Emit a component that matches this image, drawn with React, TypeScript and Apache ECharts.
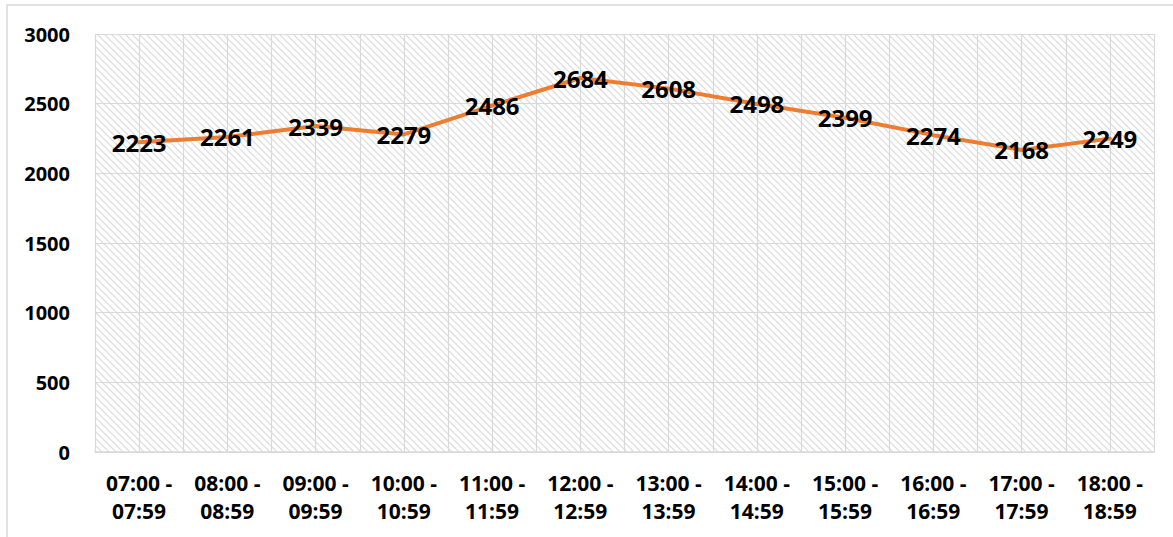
import React, { useEffect, useRef } from "react";
import * as echarts from "echarts";

const categories = [
  "07:00 -\n07:59",
  "08:00 -\n08:59",
  "09:00 -\n09:59",
  "10:00 -\n10:59",
  "11:00 -\n11:59",
  "12:00 -\n12:59",
  "13:00 -\n13:59",
  "14:00 -\n14:59",
  "15:00 -\n15:59",
  "16:00 -\n16:59",
  "17:00 -\n17:59",
  "18:00 -\n18:59",
];
const values = [2223, 2261, 2339, 2279, 2486, 2684, 2608, 2498, 2399, 2274, 2168, 2249];
const yMin = 0;
const yMax = 3000;
const yStep = 500;

const FONT = "'Open Sans', 'Noto Sans', sans-serif";

const hatchSvg =
  "<svg xmlns='http://www.w3.org/2000/svg' width='7' height='7'>" +
  "<path d='M-1,-1 L8,8 M-1,6 L1,8 M6,-1 L8,1' stroke='#dadada' stroke-width='1.2' fill='none'/></svg>";
const hatchUrl = "data:image/svg+xml;charset=utf-8," + encodeURIComponent(hatchSvg);

export default function App() {
  const ref = useRef<HTMLDivElement>(null);
  useEffect(() => {
    if (!ref.current) return;
    const chart = echarts.init(ref.current, null, { renderer: "svg" });
    chart.setOption({
      animation: false,
      backgroundColor: "#ffffff",
      textStyle: { fontFamily: FONT },
      graphic: [
        {
          type: "rect",
          shape: { x: 7, y: 5, width: 1200, height: 600 },
          style: { fill: "none", stroke: "#d9d9d9", lineWidth: 1.5 },
          silent: true,
          z: -1,
        },
      ],
      grid: {
        left: 95,
        top: 34,
        right: 19,
        bottom: 85,
        show: true,
        borderWidth: 0,
        backgroundColor: {
          image: hatchUrl,
          repeat: "repeat",
          imageWidth: 7,
          imageHeight: 7,
        } as any,
      },
      xAxis: [
        {
          type: "category",
          data: categories,
          boundaryGap: true,
          axisLine: { show: true, lineStyle: { color: "#d9d9d9", width: 1.5 } },
          axisTick: { show: false },
          splitLine: { show: false },
          axisLabel: {
            color: "#000",
            fontWeight: "bold",
            fontSize: 21,
            lineHeight: 28,
            margin: 17,
            interval: 0,
            fontFamily: FONT,
          },
        },
        {
          type: "value",
          min: 0,
          max: 24,
          interval: 1,
          show: true,
          position: "bottom",
          axisLine: { show: false },
          axisTick: { show: false },
          axisLabel: { show: false },
          splitLine: { show: true, lineStyle: { color: "#d9d9d9", width: 1.2 } },
        },
      ],
      yAxis: {
        type: "value",
        min: yMin,
        max: yMax,
        interval: yStep,
        axisLine: { show: false },
        axisTick: { show: false },
        splitLine: { show: true, lineStyle: { color: "#d9d9d9", width: 1.2 } },
        axisLabel: {
          color: "#000",
          fontWeight: "bold",
          fontSize: 20,
          margin: 25,
          fontFamily: FONT,
          formatter: (v: number) => String(v),
        },
      },
      series: [
        {
          type: "line",
          xAxisIndex: 0,
          data: values,
          symbol: "circle",
          symbolSize: 1,
          showSymbol: true,
          lineStyle: { color: "#ED7D31", width: 4, cap: "round", join: "round" },
          itemStyle: { color: "#ED7D31" },
          label: {
            show: true,
            position: "inside",
            color: "#000",
            fontWeight: "bold",
            fontSize: 24,
            fontFamily: FONT,
          },
          z: 5,
        },
      ],
    });
    return () => chart.dispose();
  }, []);
  return (
    <div
      ref={ref}
      style={{ position: "fixed", left: 0, top: 0, width: 1173, height: 537 }}
    />
  );
}
